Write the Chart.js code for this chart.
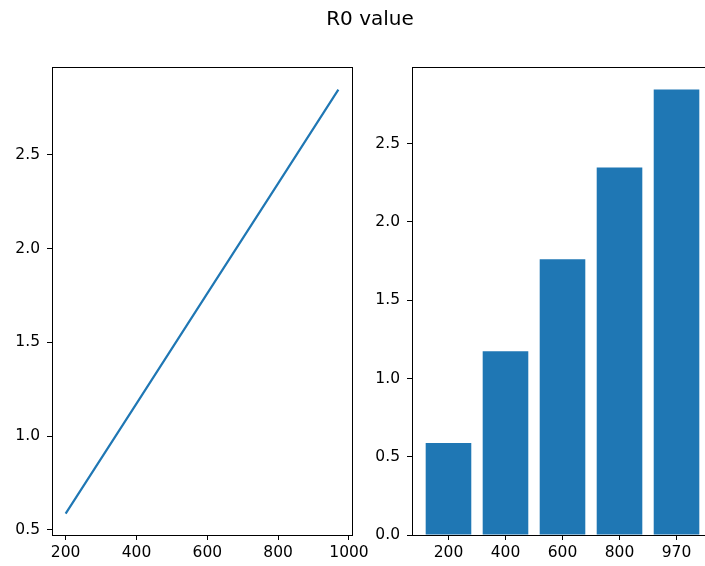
<!DOCTYPE html>
<html>
<head>
<meta charset="utf-8">
<script src="https://cdn.jsdelivr.net/npm/chart.js@4"></script>
<style>
    html, body { margin: 0; padding: 0; overflow: hidden; background: #fff; }
    #wrap { position: relative; width: 705px; height: 566px; overflow: hidden; }
    #title { position: absolute; left: 270px; top: 9px; width: 200px; text-align: center;
             font-family: 'DejaVu Sans'; font-size: 20px; line-height: 19px; color: #000; }
    #left { position: absolute; left: 0; top: 0; }
    #right { position: absolute; left: 360px; top: 0; }
</style>
</head>
<body>
<div id="wrap">
    <canvas id="left" width="420" height="566"></canvas>
    <canvas id="right" width="400" height="566"></canvas>
    <div id="title">R0 value</div>
</div>
<script>
const populations = [200, 400, 600, 800, 970];
const categories = ['200', '400', '600', '800', '970'];
const r0Values = [0.587, 1.174, 1.761, 2.348, 2.847];

const blue = '#1f77b4';

Chart.defaults.font.family = 'DejaVu Sans';
Chart.defaults.font.size = 15.5;
Chart.defaults.color = '#000';
Chart.defaults.animation = false;

// draws the full box around the plot area, like matplotlib spines
const frame = {
    id: 'frame',
    afterDraw(chart) {
        const a = chart.chartArea;
        const ctx = chart.ctx;
        ctx.save();
        ctx.strokeStyle = '#000';
        ctx.lineWidth = 1;
        ctx.strokeRect(Math.round(a.left) + 0.5, Math.round(a.top) + 0.5,
            Math.round(a.right - a.left), Math.round(a.bottom - a.top));
        ctx.restore();
    }
};

function fixedAxis(size) {
    return function (scale) {
        if (scale.isHorizontal()) scale.height = size;
        else scale.width = size;
        scale.paddingLeft = 0;
        scale.paddingRight = 0;
        scale.paddingTop = 0;
        scale.paddingBottom = 0;
    };
}

const tickGrid = { display: true, offset: false, drawOnChartArea: false, drawTicks: true, tickLength: 5, tickColor: '#000', tickWidth: 1 };

new Chart(document.getElementById('left'), {
    type: 'line',
    data: {
        datasets: [{
            data: populations.map((p, i) => ({ x: p, y: r0Values[i] })),
            borderColor: blue,
            borderWidth: 2.2,
            pointRadius: 0,
            tension: 0
        }]
    },
    options: {
        responsive: false,
        layout: { padding: { top: 67, right: 68, left: 0, bottom: 0 } },
        plugins: { legend: { display: false }, tooltip: { enabled: false } },
        scales: {
            x: {
                type: 'linear',
                min: 161.5,
                max: 1008.5,
                grid: tickGrid,
                border: { display: false },
                ticks: { stepSize: 200, includeBounds: false, padding: 4, maxRotation: 0, callback: v => String(v) },
                afterFit: fixedAxis(31)
            },
            y: {
                type: 'linear',
                min: 0.4733,
                max: 2.968,
                grid: tickGrid,
                border: { display: false },
                ticks: { stepSize: 0.5, includeBounds: false, padding: 7, callback: v => v.toFixed(1) },
                afterFit: fixedAxis(52)
            }
        }
    },
    plugins: [frame]
});

new Chart(document.getElementById('right'), {
    type: 'bar',
    data: {
        datasets: [{
            data: r0Values.map((v, i) => ({ x: i, y: v })),
            backgroundColor: blue,
            borderWidth: 0,
            barPercentage: 0.8,
            categoryPercentage: 1.0
        }]
    },
    options: {
        responsive: false,
        layout: { padding: { top: 67, right: 47, left: 0, bottom: 0 } },
        plugins: { legend: { display: false }, tooltip: { enabled: false } },
        scales: {
            x: {
                type: 'linear',
                min: -0.64,
                max: 4.64,
                offset: false,
                grid: tickGrid,
                border: { display: false },
                ticks: { stepSize: 1, includeBounds: false, padding: 4, maxRotation: 0,
                         callback: v => categories[v] },
                afterFit: fixedAxis(31)
            },
            y: {
                type: 'linear',
                min: 0,
                max: 2.99,
                grid: tickGrid,
                border: { display: false },
                ticks: { stepSize: 0.5, includeBounds: false, padding: 7, callback: v => v.toFixed(1) },
                afterFit: fixedAxis(52)
            }
        }
    },
    plugins: [frame]
});
</script>
</body>
</html>
